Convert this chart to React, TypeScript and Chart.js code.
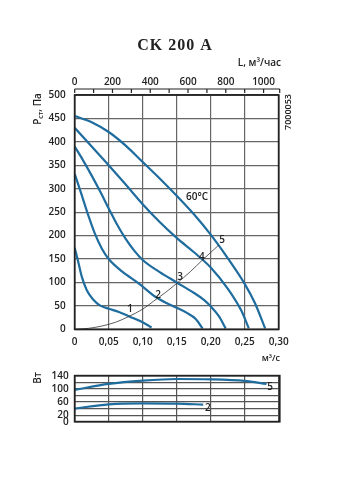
import React, { useEffect, useRef } from 'react';
import { Chart, registerables } from 'chart.js';
Chart.register(...registerables);

// ---- Pressure curves (flow m³/s, pressure Pa) ----
const curve1Q = [0, 0.005, 0.0103, 0.0176, 0.0275, 0.037, 0.05, 0.065, 0.081, 0.0985, 0.113];
const curve1P = [174, 145, 113, 84, 63, 51, 44, 37, 27, 16, 4];
const curve2Q = [0, 0.01, 0.02, 0.03, 0.04, 0.05, 0.07, 0.095, 0.118, 0.135, 0.15, 0.165, 0.178, 0.188];
const curve2P = [332, 288, 243, 203, 172, 150, 123, 97, 70, 56, 46, 35, 22, 2];
const curve3Q = [0, 0.0125, 0.025, 0.0375, 0.05, 0.0625, 0.075, 0.0875, 0.1, 0.125, 0.15, 0.175, 0.19, 0.2, 0.212, 0.222];
const curve3P = [390, 360, 328, 294, 258, 223, 193, 168, 148, 122, 100, 78, 63, 49, 28, 2];
const curve4Q = [0, 0.025, 0.05, 0.075, 0.1, 0.125, 0.15, 0.175, 0.2, 0.225, 0.245, 0.256];
const curve4P = [430, 390, 350, 309, 267, 229, 195, 165, 132, 87, 40, 2];
const curve5Q = [0, 0.025, 0.05, 0.075, 0.1, 0.125, 0.15, 0.175, 0.2, 0.225, 0.25, 0.265, 0.28];
const curve5P = [455, 442, 421, 392, 357, 322, 285, 246, 202, 152, 97, 56, 2];
// system (network) curve
const sysQ = [0, 0.02, 0.04, 0.06, 0.079, 0.1, 0.116, 0.133, 0.15, 0.17, 0.188, 0.212];
const sysP = [0, 2, 7, 15, 27, 43, 60, 78, 98, 123, 148, 180];
// ---- Power curves (W) ----
const power5Q = [0, 0.05, 0.1, 0.15, 0.2, 0.25, 0.282];
const power5W = [97, 115, 125, 130, 129, 124, 115];
const power2Q = [0, 0.05, 0.1, 0.15, 0.189];
const power2W = [40, 53, 56, 55, 52];
// ---- Tick labels ----
const flowTicks = ['0', '0,05', '0,10', '0,15', '0,20', '0,25', '0,30'];
const topTicks = [0, 200, 400, 600, 800, 1000];
const powerTickLabels = [0, 20, 60, 100, 140];
// ---- Curve labels (text, q, value) ----
const curveLabelText = ['1', '2', '3', '4', '5', '60°C'];
const curveLabelQ = [0.0813, 0.1225, 0.155, 0.187, 0.2168, 0.18];
const curveLabelP = [42, 72, 111, 153, 190, 281];
const powerLabelText = ['5', '2'];
const powerLabelQ = [0.2875, 0.196];
const powerLabelW = [106, 42];

const BLUE = '#1f6c9e';
const DARK = '#222';
const FONT = '"Open Sans", "DejaVu Sans", sans-serif';

const pts = (q: number[], v: number[]) => q.map((x, i) => ({ x, y: v[i] }));

function drawText(ctx: CanvasRenderingContext2D, s: string, x: number, y: number, font: string, align: CanvasTextAlign = 'center', rot = 0, color = DARK) {
  ctx.save();
  ctx.translate(x, y);
  if (rot) ctx.rotate(rot);
  ctx.font = font;
  ctx.fillStyle = color;
  ctx.textAlign = align;
  ctx.textBaseline = 'middle';
  ctx.fillText(s, 0, 0);
  ctx.restore();
}

const mainPlugin = {
  id: 'mainText',
  afterDraw(chart: any) {
    const ctx: CanvasRenderingContext2D = chart.ctx;
    const a = chart.chartArea;
    const xs = chart.scales.x;
    const ys = chart.scales.y;
    const x2 = chart.scales.x2;
    ctx.save();
    ctx.strokeStyle = DARK;
    ctx.lineWidth = 1.8;
    ctx.strokeRect(a.left, a.top, a.right - a.left, a.bottom - a.top);
    ctx.restore();
    ctx.save();
    (ctx as any).letterSpacing = '1px';
    drawText(ctx, 'CK 200 A', 175, 46, 'bold 16px "Liberation Serif", "DejaVu Serif", serif');
    ctx.restore();
    drawText(ctx, 'L, м³/час', 281, 63, `600 10px ${FONT}`, 'right');
    // top ruler
    ctx.save();
    ctx.strokeStyle = DARK;
    ctx.lineWidth = 1.2;
    const rulerY = 89;
    ctx.beginPath();
    ctx.moveTo(x2.getPixelForValue(0), rulerY);
    ctx.lineTo(a.right + 1, rulerY);
    for (let v = 0; v <= 1000; v += 100) {
      const px = x2.getPixelForValue(v);
      ctx.moveTo(px, rulerY);
      ctx.lineTo(px, rulerY + 4);
    }
    ctx.moveTo(a.right + 1, rulerY);
    ctx.lineTo(a.right + 1, rulerY + 4);
    ctx.stroke();
    ctx.restore();
    // y title Рст, Па
    ctx.save();
    ctx.translate(38, 109);
    ctx.rotate(-Math.PI / 2);
    ctx.fillStyle = DARK;
    ctx.textBaseline = 'middle';
    ctx.textAlign = 'left';
    const f1 = `600 10px ${FONT}`;
    const f2 = `600 7px ${FONT}`;
    ctx.font = f1; const w1 = ctx.measureText('Р').width; const w3 = ctx.measureText(', Па').width;
    ctx.font = f2; const w2 = ctx.measureText('ст').width;
    let x0 = -(w1 + w2 + w3) / 2;
    ctx.font = f1; ctx.fillText('Р', x0, 0); x0 += w1;
    ctx.font = f2; ctx.fillText('ст', x0, 2.5); x0 += w2;
    ctx.font = f1; ctx.fillText(', Па', x0, 0);
    ctx.restore();
    drawText(ctx, '7000053', 288, 112, `600 9px ${FONT}`, 'center', -Math.PI / 2);
    drawText(ctx, 'м³/с', 280, 358, `600 9px ${FONT}`, 'right');
    curveLabelText.forEach((t, i) => {
      drawText(ctx, t, xs.getPixelForValue(curveLabelQ[i]), ys.getPixelForValue(curveLabelP[i]), `600 10px ${FONT}`);
    });
  },
};

const powerPlugin = {
  id: 'powerText',
  afterDraw(chart: any) {
    const ctx: CanvasRenderingContext2D = chart.ctx;
    const a = chart.chartArea;
    const xs = chart.scales.x;
    const ys = chart.scales.y;
    ctx.save();
    ctx.strokeStyle = DARK;
    ctx.lineWidth = 1.8;
    ctx.strokeRect(a.left, a.top, a.right - a.left + 1, a.bottom - a.top);
    ctx.restore();
    drawText(ctx, 'Вт', 38, 378, `600 10px ${FONT}`, 'center', -Math.PI / 2);
    powerLabelText.forEach((t, i) => {
      drawText(ctx, t, xs.getPixelForValue(powerLabelQ[i]), ys.getPixelForValue(powerLabelW[i]), `600 10px ${FONT}`);
    });
  },
};

const tickFont = { family: FONT, size: 10, weight: 600 as any };

export default function App() {
  const ref1 = useRef<HTMLCanvasElement>(null);
  const ref2 = useRef<HTMLCanvasElement>(null);

  useEffect(() => {
    const lineDs = (q: number[], v: number[], color = BLUE, width = 2.2) => ({
      data: pts(q, v),
      borderColor: color,
      borderWidth: width,
      pointRadius: 0,
      fill: false,
      cubicInterpolationMode: 'monotone' as const,
    });
    const c1 = new Chart(ref1.current!, {
      type: 'line',
      data: {
        datasets: [
          lineDs(sysQ, sysP, '#333', 0.8),
          lineDs(curve1Q, curve1P),
          lineDs(curve2Q, curve2P),
          lineDs(curve3Q, curve3P),
          lineDs(curve4Q, curve4P),
          lineDs(curve5Q, curve5P),
        ],
      },
      options: {
        animation: false,
        responsive: false,
        events: [],
        layout: { padding: { left: 0, right: 71.3, top: 0, bottom: 150.7 } },
        plugins: { legend: { display: false }, tooltip: { enabled: false }, title: { display: false } },
        scales: {
          x: {
            type: 'linear', position: 'bottom', min: 0, max: 0.3,
            ticks: {
              stepSize: 0.05, autoSkip: false, maxRotation: 0, padding: 7, color: DARK, font: tickFont,
              callback: (v: any) => flowTicks[Math.round(Number(v) / 0.05)] ?? '',
            },
            grid: { color: '#666', lineWidth: 1.2, drawTicks: false },
            border: { display: false },
            afterFit: (s: any) => { s.height = 20; },
          },
          x2: {
            type: 'linear', position: 'top', min: 0, max: 1080,
            afterBuildTicks: (s: any) => { s.ticks = topTicks.map((v) => ({ value: v })); },
            ticks: {
              autoSkip: false, maxRotation: 0, padding: 7, color: DARK, font: tickFont,
              callback: (v: any) => String(v),
            },
            grid: { display: false, drawTicks: false },
            border: { display: false },
            afterFit: (s: any) => { s.height = 95; },
          },
          y: {
            type: 'linear', min: 0, max: 500,
            ticks: { stepSize: 50, autoSkip: false, padding: 9, color: DARK, font: tickFont },
            grid: { color: '#666', lineWidth: 1.2, drawTicks: false },
            border: { display: false },
            afterFit: (s: any) => { s.width = 74.7; },
          },
        },
      },
      plugins: [mainPlugin],
    } as any);

    const c2 = new Chart(ref2.current!, {
      type: 'line',
      data: {
        datasets: [lineDs(power5Q, power5W), lineDs(power2Q, power2W)],
      },
      options: {
        animation: false,
        responsive: false,
        events: [],
        layout: { padding: { left: 0, right: 71.3, top: 375.7, bottom: 78.3 } },
        plugins: { legend: { display: false }, tooltip: { enabled: false } },
        scales: {
          x: {
            type: 'linear', min: 0, max: 0.3,
            ticks: { display: false, stepSize: 0.05 },
            grid: { color: '#555', lineWidth: 1.2, drawTicks: false },
            border: { display: false },
            afterFit: (s: any) => { s.height = 0; },
          },
          y: {
            type: 'linear', min: 0, max: 140,
            ticks: {
              stepSize: 20, autoSkip: false, padding: 6, color: DARK, font: tickFont,
              callback: (v: any) => (powerTickLabels.includes(Number(v)) ? String(v) : ''),
            },
            grid: { color: '#555', lineWidth: 1.2, drawTicks: false },
            border: { display: false },
            afterFit: (s: any) => { s.width = 74.7; },
          },
        },
      },
      plugins: [powerPlugin],
    } as any);

    return () => { c1.destroy(); c2.destroy(); };
  }, []);

  return (
    <div style={{ position: 'absolute', left: 0, top: 0, width: 350, height: 500, background: '#fff' }}>
      <canvas ref={ref1} width={350} height={500} style={{ position: 'absolute', left: 0, top: 0 }} />
      <canvas ref={ref2} width={350} height={500} style={{ position: 'absolute', left: 0, top: 0 }} />
    </div>
  );
}
